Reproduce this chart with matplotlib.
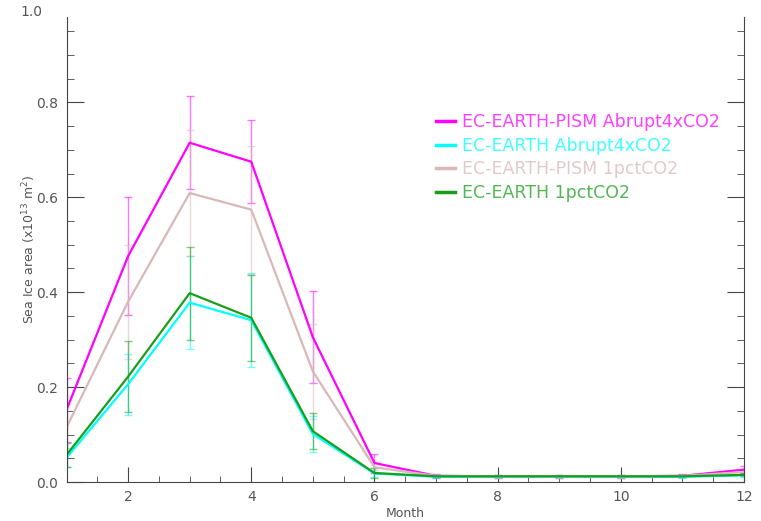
import numpy as np
import matplotlib.pyplot as plt
from matplotlib.ticker import MultipleLocator

months = np.arange(1, 13)

labels = ['EC-EARTH-PISM Abrupt4xCO2', 'EC-EARTH Abrupt4xCO2',
          'EC-EARTH-PISM 1pctCO2', 'EC-EARTH 1pctCO2']

pism_4x = [0.152, 0.476, 0.715, 0.675, 0.305, 0.040, 0.013, 0.012, 0.012, 0.012, 0.013, 0.026]
ece_4x = [0.051, 0.206, 0.378, 0.341, 0.101, 0.018, 0.011, 0.011, 0.011, 0.011, 0.011, 0.014]
pism_1pct = [0.115, 0.380, 0.609, 0.574, 0.233, 0.031, 0.013, 0.012, 0.012, 0.012, 0.013, 0.021]
ece_1pct = [0.057, 0.222, 0.398, 0.346, 0.107, 0.019, 0.012, 0.012, 0.012, 0.012, 0.012, 0.015]

pism_4x_sd = [0.068, 0.124, 0.098, 0.088, 0.097, 0.020, 0.004, 0.003, 0.003, 0.003, 0.003, 0.008]
ece_4x_sd = [0.020, 0.064, 0.098, 0.099, 0.038, 0.008, 0.002, 0.002, 0.002, 0.002, 0.002, 0.003]
pism_1pct_sd = [0.050, 0.120, 0.133, 0.135, 0.100, 0.012, 0.003, 0.003, 0.003, 0.003, 0.003, 0.006]
ece_1pct_sd = [0.025, 0.075, 0.098, 0.091, 0.038, 0.010, 0.002, 0.002, 0.002, 0.002, 0.002, 0.003]

colors = ['#ff00ff', '#00ffff', '#d8b8b8', '#1a9e1a']
series = [pism_4x, ece_4x, pism_1pct, ece_1pct]
sds = [pism_4x_sd, ece_4x_sd, pism_1pct_sd, ece_1pct_sd]

grey = '#555555'

fig = plt.figure(figsize=(7.61, 5.21), dpi=100)
ax = fig.add_axes([66.5 / 761, 39 / 521, (744 - 66.5) / 761, (482 - 17) / 521])

for y, sd, c in zip(series, sds, colors):
    ax.errorbar(months, y, yerr=sd, fmt='none', ecolor=c, alpha=0.55,
                elinewidth=1, capsize=3, capthick=1)

for y, c, lab in zip(series, colors, labels):
    ax.plot(months, y, color=c, lw=1.6, label=lab)

ax.set_xlim(1, 12)
ax.set_ylim(0, 0.98)
ax.xaxis.set_major_locator(MultipleLocator(2))
ax.xaxis.set_minor_locator(MultipleLocator(0.5))
ax.yaxis.set_major_locator(MultipleLocator(0.2))
ax.yaxis.set_minor_locator(MultipleLocator(0.05))
ax.yaxis.set_major_formatter(plt.FormatStrFormatter('%.1f'))
ax.tick_params(which='both', direction='in', color='#444444', labelcolor=grey,
               labelsize=10, right=True, top=False)
ax.tick_params(which='major', length=12, pad=6)
ax.tick_params(which='minor', length=5)
ax.tick_params(axis='x', which='minor', length=4)
ax.tick_params(axis='x', which='major', length=11)
ax.spines['top'].set_visible(False)
for s in ['left', 'right', 'bottom']:
    ax.spines[s].set_color('#444444')

ax.text(-0.035, 0.99, '1.0', transform=ax.get_yaxis_transform(), ha='right',
        va='center', color=grey, fontsize=10, clip_on=False)

ax.set_xlabel('Month', color=grey, fontsize=9, labelpad=2)
ax.set_ylabel('Sea Ice area (x10$^{13}$ m$^2$)', color=grey, fontsize=9, labelpad=-1)

leg = ax.legend(loc='upper left', bbox_to_anchor=(0.545, 0.7935), frameon=False,
                fontsize=12.5, handlelength=1.1, handletextpad=0.4,
                labelspacing=0.32, borderpad=0, borderaxespad=0,
                labelcolor='linecolor')
for h in leg.get_lines():
    h.set_linewidth(2.5)
for t in leg.get_texts():
    t.set_alpha(0.75)

fig.savefig('out.png', dpi=100)
